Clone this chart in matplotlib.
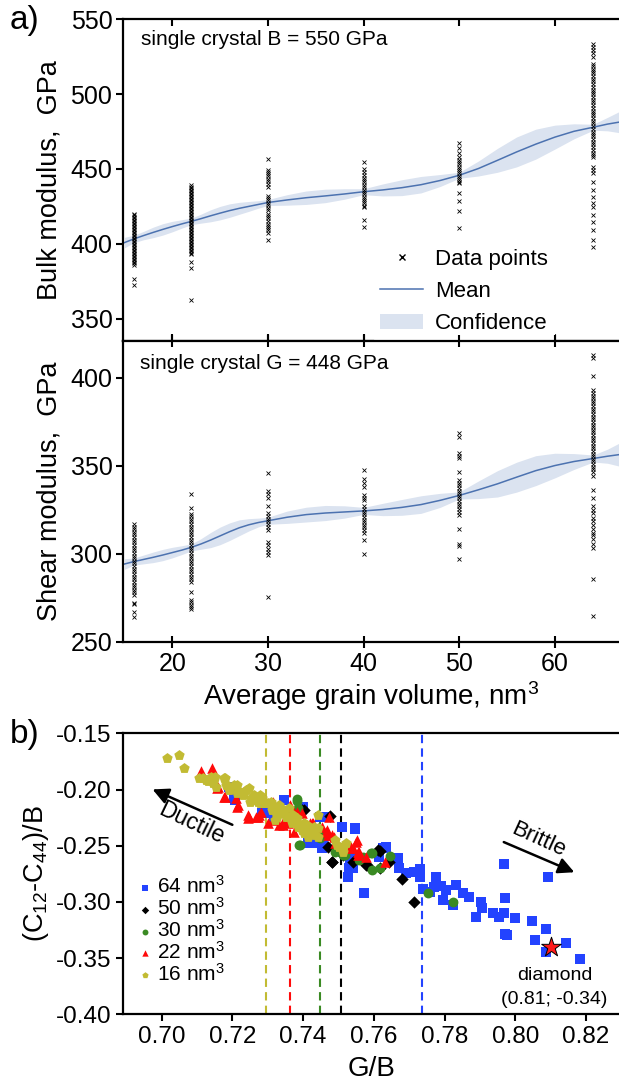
import numpy as np
import matplotlib
matplotlib.use('Agg')
import matplotlib.pyplot as plt
from matplotlib.lines import Line2D
from matplotlib.patches import Patch

plt.rcParams['font.family'] = ['Liberation Sans', 'DejaVu Sans']
plt.rcParams['mathtext.fontset'] = 'custom'
plt.rcParams['mathtext.rm'] = 'Liberation Sans'
plt.rcParams['mathtext.it'] = 'Liberation Sans'
plt.rcParams['axes.unicode_minus'] = False

# ---- a) moduli vs grain volume ----
volumes = [16, 22, 30, 40, 50, 64]

bulk_16 = [420, 419, 418, 417, 416, 415, 414, 413, 412, 411, 410, 409, 408, 407, 406, 405, 404, 403, 402,
           401, 400, 399, 398, 397, 396, 395, 394, 393, 392, 391, 390, 389, 388, 387, 386, 376.5, 372.5]
bulk_22 = [439, 438, 437, 436, 435, 434, 433, 432, 431, 430, 429, 428, 427, 426, 425, 424, 423, 422, 421,
           420, 419, 418, 417, 416, 415, 414, 413, 412, 411, 410, 409, 408, 407, 406, 405, 404, 403, 402,
           401, 400, 399, 398, 397, 396, 395, 394, 393.5, 388, 383.5, 362.3]
bulk_30 = [457, 449, 448, 446.5, 445, 443.5, 442, 440, 438, 432, 430.5, 429, 427.5, 426, 424, 422.5, 420,
           418.5, 417, 415, 413.5, 412, 410.5, 409, 407, 402.5]
bulk_40 = [454.5, 450, 448, 446, 444, 442.5, 441, 439.5, 438, 436, 434.5, 433, 431.5, 430, 428.5, 427,
           425.5, 424.5, 416, 411]
bulk_50 = [467.3, 463.7, 460.5, 458.2, 455.9, 454.5, 453, 451.5, 450, 448.5, 447, 445.5, 444, 442.5, 441,
           440.3, 434, 428.3, 422, 410.8]
bulk_64 = [533.8, 531.5, 529.5, 527.5, 525, 520, 518.5, 517, 515.5, 514, 512, 510, 508.5, 507, 505, 503,
           501.5, 500, 498, 496, 494.5, 493, 491, 489, 487.5, 486, 484, 482, 480.5, 479, 477, 475, 473.5,
           472, 470, 468, 466.5, 465, 463, 461, 459.5, 458, 451.4, 449, 447, 441, 436, 431.5, 427.3, 424.6,
           419.1, 414.6, 409.1, 402.4, 397.9]

shear_16 = [317, 315.5, 314, 312.5, 311, 309.5, 308, 306.5, 305, 303.5, 302, 300.5, 299, 297.5, 296, 294.5,
            293, 291.5, 290, 288.5, 287, 285.5, 284, 282.5, 281, 279.5, 278, 276.5, 271.8, 271.2, 266.8, 264.3]
shear_22 = [334.1, 326.3, 322.8, 321.5, 320, 318.5, 317, 315.5, 314, 312.5, 311, 309.5, 308, 306.5, 305,
            303.5, 302, 300.5, 299, 297.5, 296, 294.5, 293, 291.5, 290, 288.5, 287, 285.5, 284, 278, 273.7,
            272.5, 271, 269.8, 268.5]
shear_30 = [345.8, 336, 334.3, 331.8, 327.2, 323, 321.5, 320, 318.5, 317, 315.5, 313.8, 307, 305, 303, 301,
            299.3, 275.6]
shear_40 = [347.4, 342.5, 340.2, 338, 333.6, 332, 330.7, 327.2, 325.5, 324, 322.5, 321, 319.5, 318, 316.5,
            315, 313.5, 311.8, 308, 300]
shear_50 = [368.8, 366.2, 357.3, 355.8, 354.4, 346.8, 342.2, 340.5, 339, 337.5, 336, 334.5, 333, 331.5, 330,
            328.5, 327, 325.5, 324, 322.3, 314.2, 305.5, 304.5, 296.9]
shear_64 = [413.3, 411.2, 400.9, 393.3, 391.5, 390, 388.5, 387, 385.5, 384, 382.5, 381, 379.5, 378, 376.5,
            375, 373.5, 372, 370.5, 369, 367.5, 366, 364.5, 363, 361.5, 360, 358.5, 357, 355.5, 354, 352.5,
            351, 349.5, 348, 346.5, 344, 336.4, 331.5, 327, 325, 323, 320.5, 318.5, 316.5, 314, 312, 310.5,
            308.5, 305.5, 303.2, 285.6, 264.4]

# GP fit: mean and confidence half-width
fit_x = [15, 16, 17, 18, 19, 20, 21, 22, 23, 24, 25, 26, 27, 28, 29, 30, 32, 34, 36, 38, 40, 42, 44, 46,
         48, 50, 52, 54, 56, 58, 60, 62, 64, 65.5, 66.7]
bulk_mean = [400.8, 403.3, 405.5, 407.6, 409.6, 411.5, 413.3, 415.0, 416.8, 418.7, 420.5, 422.2, 423.7,
             425.0, 426.3, 427.6, 429.3, 430.8, 432.0, 433.3, 434.8, 436.0, 437.5, 439.5, 442.3, 445.8,
             450.3, 455.8, 461.4, 466.6, 471.3, 475.2, 477.9, 480.0, 481.3]
bulk_conf = [3.5, 2.5, 2.8, 3.5, 3.8, 3.5, 2.8, 2.2, 3, 4, 4.5, 4.5, 4, 3.3, 2.5, 2, 3.5, 4.5, 4.5, 3.5, 2,
             4, 5.3, 5.5, 4, 2, 5, 8, 10, 10, 8, 5, 2, 4.5, 7]
shear_mean = [294.2, 295.6, 296.8, 298.0, 299.3, 300.7, 302.1, 303.7, 305.6, 307.8, 310.2, 312.6, 314.8,
              316.5, 317.8, 318.8, 320.8, 322.3, 323.2, 323.8, 324.4, 325.2, 326.4, 328.0, 330.4, 333.2,
              336.4, 339.8, 343.6, 347.3, 350.2, 352.5, 354.2, 355.5, 356.4]
shear_conf = [3, 2, 2.5, 3, 3.2, 3, 2.5, 2, 3, 4.3, 5, 5, 4.5, 3.5, 2.5, 2, 3.5, 4.2, 4.3, 3.5, 2, 3.5, 4.5,
              5, 4, 2, 5, 7.5, 8.5, 8.5, 7, 4.5, 2, 4, 6.5]

# ---- b) G/B vs Cauchy pressure ----
gb_64 = [0.7191, 0.7205, 0.7284, 0.7290, 0.7318, 0.7346, 0.7398, 0.7413, 0.7435, 0.7436, 0.7452, 0.7455,
         0.7458, 0.7510, 0.7547, 0.7530, 0.7528, 0.7573, 0.7634, 0.7615, 0.7667, 0.7672, 0.7691, 0.7714,
         0.7729, 0.7730, 0.7738, 0.7776, 0.7790, 0.7794, 0.7832, 0.7851, 0.7870, 0.7823, 0.7903, 0.7906,
         0.7889, 0.7936, 0.7955, 0.7969, 0.8000, 0.7972, 0.7967, 0.7972, 0.7975, 0.8046, 0.8055, 0.8092,
         0.8088, 0.8088, 0.8142, 0.8183, 0.7804, 0.7770, 0.7759, 0.7545, 0.7511,
         0.7193, 0.7207, 0.7292, 0.7400, 0.7448, 0.7457, 0.7509, 0.7547, 0.7533, 0.7542, 0.7627]
pp_64 = [-0.1975, -0.2078, -0.2212, -0.2212, -0.2241, -0.2093, -0.2153, -0.2479, -0.2479, -0.2479, -0.2523,
         -0.2509, -0.2241, -0.2331, -0.2354, -0.2701, -0.2776, -0.2924, -0.2509, -0.2598, -0.2612, -0.2701,
         -0.2746, -0.2731, -0.2710, -0.2776, -0.2888, -0.2781, -0.2859, -0.2983, -0.2850, -0.2924, -0.2954,
         -0.3028, -0.2998, -0.3057, -0.3132, -0.3101, -0.3132, -0.3096, -0.3140, -0.2968, -0.2666, -0.3288,
         -0.3294, -0.3170, -0.3339, -0.2775, -0.3244, -0.3448, -0.3362, -0.3511, -0.2894, -0.2865, -0.2909,
         -0.2605, -0.2330,
         -0.1984, -0.2093, -0.2212, -0.2153, -0.2242, -0.2494, -0.2331, -0.2345, -0.2627, -0.2701, -0.2523]

gb_50 = [0.7476, 0.7482, 0.7540, 0.7578, 0.7613, 0.7617, 0.7680, 0.7712, 0.7512, 0.7469, 0.7402,
         0.7396, 0.7481, 0.7580, 0.7617, 0.7644]
pp_50 = [-0.2233, -0.2642, -0.2642, -0.2672, -0.2538, -0.2701, -0.2796, -0.2998, -0.2583, -0.2509, -0.2182,
         -0.2182, -0.2642, -0.2672, -0.2547, -0.2642]

gb_30 = [0.7382, 0.7389, 0.7516, 0.7559, 0.7592, 0.7595, 0.7646, 0.7752, 0.7825, 0.7433, 0.7458, 0.7519,
         0.7382, 0.7386, 0.7391, 0.7448, 0.7490, 0.7594, 0.7617, 0.7570, 0.7514]
pp_30 = [-0.2100, -0.2494, -0.2583, -0.2627, -0.2562, -0.2716, -0.2592, -0.2924, -0.2998, -0.2390, -0.2390,
         -0.2582, -0.2084, -0.2167, -0.2494, -0.2434, -0.2553, -0.2568, -0.2701, -0.2598, -0.2583]

gb_22 = [0.7111, 0.7142, 0.7158, 0.7196, 0.7210, 0.7229, 0.7243, 0.7267, 0.7281, 0.7300, 0.7314, 0.7333,
         0.7342, 0.7356, 0.7375, 0.7176, 0.7212, 0.7248, 0.7274, 0.7346, 0.7374, 0.7402, 0.7424, 0.7435,
         0.7452, 0.7469, 0.7486, 0.7363, 0.7472, 0.7427, 0.7465, 0.7550, 0.7554, 0.7578, 0.7630, 0.7540,
         0.7536, 0.7558,
         0.7156, 0.7179, 0.7217, 0.7245, 0.7273, 0.7292, 0.7316, 0.7335, 0.7363, 0.7344, 0.7382, 0.7396,
         0.7419, 0.7429, 0.7467, 0.7481, 0.7490, 0.7551, 0.7533, 0.7556]
pp_22 = [-0.1835, -0.1811, -0.1975, -0.1989, -0.2078, -0.2019, -0.2227, -0.2242, -0.2197, -0.2301, -0.2271,
         -0.2316, -0.2197, -0.2301, -0.2375, -0.2069, -0.2152, -0.2247, -0.2227, -0.2271, -0.2212, -0.2301,
         -0.2301, -0.2375, -0.2330, -0.2405, -0.2419, -0.2138, -0.2247, -0.2301, -0.2375, -0.2464, -0.2553,
         -0.2598, -0.2642, -0.2523, -0.2508, -0.2553,
         -0.1984, -0.2064, -0.2138, -0.2256, -0.2242, -0.2093, -0.2109, -0.2138, -0.2167, -0.2316, -0.2197,
         -0.2212, -0.2301, -0.2360, -0.2360, -0.2405, -0.2479, -0.2449, -0.2523, -0.2583]

gb_16 = [0.7015, 0.7048, 0.7064, 0.7106, 0.7125, 0.7139, 0.7144, 0.7154, 0.7177, 0.7182, 0.7191, 0.7205,
         0.7215, 0.7229, 0.7238, 0.7253, 0.7262, 0.7271, 0.7285, 0.7295, 0.7309, 0.7318, 0.7333, 0.7347,
         0.7361, 0.7370, 0.7380, 0.7212, 0.7257, 0.7279, 0.7313, 0.7324, 0.7340, 0.7352, 0.7368, 0.7380,
         0.7391, 0.7402, 0.7413, 0.7424, 0.7430, 0.7441, 0.7441, 0.7491, 0.7502, 0.7514, 0.7522, 0.7413,
         0.7402,
         0.7118, 0.7132, 0.7151, 0.7179, 0.7184, 0.7214, 0.7221, 0.7247, 0.7250, 0.7264, 0.7278, 0.7283,
         0.7301, 0.7311, 0.7320, 0.7325, 0.7344, 0.7358, 0.7368, 0.7382, 0.7386, 0.7396, 0.7410, 0.7419,
         0.7434, 0.7443, 0.7495, 0.7514]
pp_16 = [-0.1717, -0.1693, -0.1811, -0.1900, -0.1915, -0.1886, -0.1945, -0.1975, -0.1895, -0.1960, -0.2004,
         -0.1960, -0.2019, -0.2049, -0.2004, -0.2078, -0.2049, -0.2109, -0.2078, -0.2123, -0.2109, -0.2153,
         -0.2138, -0.2182, -0.2167, -0.2227, -0.2287, -0.2034, -0.2093, -0.2123, -0.2152, -0.2212, -0.2182,
         -0.2241, -0.2227, -0.2286, -0.2330, -0.2301, -0.2360, -0.2390, -0.2330, -0.2227, -0.2419, -0.2449,
         -0.2508, -0.2523, -0.2479, -0.2419, -0.2390,
         -0.1900, -0.1924, -0.1886, -0.1900, -0.1960, -0.1960, -0.2020, -0.1989, -0.2109, -0.2064, -0.2049,
         -0.2123, -0.2123, -0.2182, -0.2271, -0.2242, -0.2197, -0.2242, -0.2301, -0.2256, -0.2331, -0.2360,
         -0.2316, -0.2390, -0.2405, -0.2345, -0.2494, -0.2553]

# mean G/B per grain volume (dashed lines)
mean_gb = {'64': 0.7736, '50': 0.7508, '30': 0.7449, '22': 0.7363, '16': 0.7296}
diamond_gb, diamond_pp = 0.81, -0.34

c_blue, c_black, c_green, c_red, c_yel = '#2343ff', 'black', '#3a8a23', '#ff0a0a', '#c2bb33'
line_c = '#4c72b0'
band_c = '#dbe3f0'

fig = plt.figure(figsize=(6.19, 10.82), dpi=100)
ax1 = fig.add_axes([0.1995, 0.6848, 0.8005, 0.2973])
ax2 = fig.add_axes([0.1995, 0.4069, 0.8005, 0.2779])
ax3 = fig.add_axes([0.1995, 0.06257, 0.8005, 0.2597])


def modulus_panel(ax, cols, mean, conf):
    lo = np.array(mean) - np.array(conf)
    hi = np.array(mean) + np.array(conf)
    ax.fill_between(fit_x, lo, hi, color=band_c, lw=0, zorder=1)
    ax.plot(fit_x, mean, color=line_c, lw=1.1, zorder=2)
    for v, ys in zip(volumes, cols):
        ax.plot([v] * len(ys), ys, 'x', color='black', ms=2.6, mew=0.6, zorder=3)
    ax.set_xlim(14.9, 66.7)
    ax.set_xticks([20, 30, 40, 50, 60])
    ax.spines['right'].set_visible(False)
    for s in ['left', 'top', 'bottom']:
        ax.spines[s].set_linewidth(1.6)
    ax.tick_params(axis='y', direction='out', length=5, width=1.5, labelsize=18, pad=3)
    ax.tick_params(axis='x', direction='in', length=5, width=1.5, top=True, labelsize=18)


modulus_panel(ax1, [bulk_16, bulk_22, bulk_30, bulk_40, bulk_50, bulk_64], bulk_mean, bulk_conf)
ax1.set_ylim(335, 550)
ax1.set_yticks([350, 400, 450, 500, 550])
ax1.tick_params(axis='x', labelbottom=False)
ax1.set_ylabel('Bulk modulus,  GPa', fontsize=19.5, labelpad=6)
ax1.text(0.035, 0.936, 'single crystal B = 550 GPa', transform=ax1.transAxes, fontsize=15, va='center')
h = [Line2D([], [], ls='', marker='x', color='black', ms=4, mew=1),
     Line2D([], [], color=line_c, lw=1.1),
     Patch(facecolor=band_c, edgecolor='none')]
ax1.legend(h, ['Data points', 'Mean', 'Confidence'], loc='lower left', bbox_to_anchor=(0.505, 0.0),
           fontsize=16, frameon=True, facecolor='white', edgecolor='white', framealpha=1,
           handlelength=1.9, handletextpad=0.55, labelspacing=0.5, borderpad=0.3, borderaxespad=0)

modulus_panel(ax2, [shear_16, shear_22, shear_30, shear_40, shear_50, shear_64], shear_mean, shear_conf)
ax2.set_ylim(250, 421)
ax2.set_yticks([250, 300, 350, 400])
ax2.xaxis.set_tick_params(which='major', direction='inout', length=8)
ax2.set_ylabel('Shear modulus,  GPa', fontsize=19.5, labelpad=6)
ax2.set_xlabel('Average grain volume, nm$^3$', fontsize=20, labelpad=2)
ax2.text(0.033, 0.926, 'single crystal G = 448 GPa', transform=ax2.transAxes, fontsize=15, va='center')

# panel b scatter
groups = [('64', gb_64, pp_64, c_blue, 's', 46),
          ('50', gb_50, pp_50, c_black, 'D', 40),
          ('30', gb_30, pp_30, c_green, 'o', 50),
          ('22', gb_22, pp_22, c_red, '^', 58),
          ('16', gb_16, pp_16, c_yel, 'p', 62)]
for name, gx, gy, col, mk, sz in groups:
    ax3.scatter(gx, gy, s=sz, marker=mk, color=col, linewidths=0, label=name + ' nm$^3$')
for name, gx, gy, col, mk, sz in groups:
    ax3.axvline(mean_gb[name], color=col, ls=(0, (4, 2.5)), lw=1.5, zorder=0.5)

ax3.scatter([diamond_gb], [diamond_pp], marker='*', s=220, color='#ff1a1a', edgecolors='black',
            linewidths=0.7, zorder=5)
ax3.text(0.8111, -0.3659, 'diamond', ha='center', va='center', fontsize=14)
ax3.text(0.8111, -0.3867, '(%.2f; %.2f)' % (diamond_gb, diamond_pp), ha='center', va='center', fontsize=14)

ax3.annotate('', xy=(0.6967, -0.1989), xytext=(0.7207, -0.2324),
             arrowprops=dict(arrowstyle='-|>', color='black', lw=1.8, mutation_scale=24))
ax3.annotate('', xy=(0.8174, -0.2746), xytext=(0.7960, -0.2458),
             arrowprops=dict(arrowstyle='-|>', color='black', lw=1.8, mutation_scale=24))
ax3.text(0.7084, -0.2301, 'Ductile', rotation=-25.5, ha='center', va='center', fontsize=16.5,
         rotation_mode='anchor')
ax3.text(0.8066, -0.2449, 'Brittle', rotation=-24.5, ha='center', va='center', fontsize=16,
         rotation_mode='anchor')

ax3.set_xlim(0.6892, 0.8293)
ax3.set_ylim(-0.40, -0.15)
ax3.set_xticks(np.arange(0.70, 0.821, 0.02))
ax3.set_yticks(np.arange(-0.40, -0.149, 0.05))
ax3.xaxis.set_major_formatter(matplotlib.ticker.FormatStrFormatter('%.2f'))
ax3.yaxis.set_major_formatter(matplotlib.ticker.FormatStrFormatter('%.2f'))
ax3.spines['right'].set_visible(False)
for s in ['left', 'top', 'bottom']:
    ax3.spines[s].set_linewidth(1.6)
ax3.tick_params(direction='out', length=5, width=1.5, labelsize=17.5)
ax3.set_xlabel('G/B', fontsize=20, labelpad=6)
ax3.set_ylabel('(C$_{12}$-C$_{44}$)/B', fontsize=19.5, labelpad=4)
ax3.legend(loc='lower left', bbox_to_anchor=(0.022, 0.09), fontsize=15, frameon=False, markerscale=0.6,
           handlelength=0.6, handletextpad=0.3, labelspacing=0.0, borderpad=0.2, borderaxespad=0)

fig.text(10 / 619, 1 - 20 / 1082, 'a)', fontsize=24, va='center', ha='left')
fig.text(10 / 619, 1 - 735 / 1082, 'b)', fontsize=24, va='center', ha='left')

fig.savefig('out.png', dpi=100)
